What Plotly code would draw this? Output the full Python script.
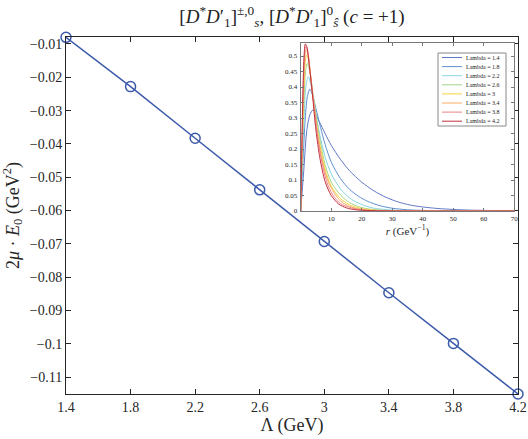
import plotly.graph_objects as go

W, H = 528, 439
L, R, T, B = 66, 10, 37, 45

# main panel: binding energy vs cutoff
lam = [1.4, 1.8, 2.2, 2.6, 3.0, 3.4, 3.8, 4.2]
e0 = [-0.0080, -0.0228, -0.0383, -0.0538, -0.0693, -0.0847, -0.0999, -0.1151]

# inset: radial distributions
r_14 = [0, 1, 2, 3, 4, 6, 8, 10, 13, 16, 20, 24, 28, 32, 36, 40, 45, 50, 55, 60, 70]
u_14 = [0, 0.13, 0.26, 0.31, 0.326, 0.29, 0.25, 0.212, 0.167, 0.13, 0.093, 0.065,
        0.044, 0.029, 0.019, 0.013, 0.008, 0.005, 0.003, 0.002, 0.0005]
r_18 = [0, 0.7, 1.5, 2.2, 3, 4, 5, 6.5, 8, 10, 13, 16, 19, 22, 26, 30, 35, 40, 50, 70]
u_18 = [0, 0.15, 0.3, 0.37, 0.393, 0.37, 0.33, 0.27, 0.215, 0.158, 0.105, 0.07,
        0.047, 0.031, 0.017, 0.009, 0.004, 0.002, 0.0005, 0]
r_22 = [0, 0.6, 1.2, 1.8, 2.5, 3.5, 4.5, 6, 8, 10, 13, 16, 19, 22, 24, 30, 40, 70]
u_22 = [0, 0.17, 0.32, 0.41, 0.433, 0.40, 0.34, 0.258, 0.175, 0.12, 0.072, 0.042,
        0.025, 0.014, 0.009, 0.003, 0.0005, 0]
r_26 = [0, 0.5, 1, 1.5, 2.1, 3, 4, 5, 6.5, 8, 10, 13, 16, 19, 22, 26, 35, 70]
u_26 = [0, 0.18, 0.34, 0.44, 0.476, 0.45, 0.38, 0.31, 0.22, 0.15, 0.093, 0.052,
        0.027, 0.014, 0.007, 0.003, 0.0005, 0]
r_30 = [0, 0.5, 1, 1.4, 1.85, 2.5, 3.5, 4.5, 6, 8, 10, 13, 16, 19, 22, 28, 70]
u_30 = [0, 0.21, 0.38, 0.47, 0.503, 0.49, 0.41, 0.33, 0.23, 0.135, 0.08, 0.041,
        0.02, 0.01, 0.005, 0.001, 0]
r_34 = [0, 0.5, 1, 1.3, 1.7, 2.3, 3.2, 4.2, 5.5, 7, 9, 11, 13, 16, 19, 24, 70]
u_34 = [0, 0.23, 0.41, 0.48, 0.519, 0.51, 0.44, 0.355, 0.25, 0.165, 0.095, 0.058,
        0.033, 0.015, 0.007, 0.002, 0]
r_38 = [0, 0.4, 0.8, 1.2, 1.6, 2.2, 3, 4, 5.2, 6.5, 8.5, 10.5, 13, 16, 19, 24, 70]
u_38 = [0, 0.21, 0.39, 0.49, 0.53, 0.52, 0.46, 0.37, 0.27, 0.18, 0.095, 0.052,
        0.024, 0.012, 0.005, 0.001, 0]
r_42 = [0, 0.4, 0.8, 1.1, 1.5, 2, 2.8, 3.8, 5, 6.3, 8, 10, 12.5, 15, 18, 23, 70]
u_42 = [0, 0.22, 0.41, 0.5, 0.539, 0.53, 0.47, 0.38, 0.26, 0.17, 0.095, 0.05,
        0.022, 0.01, 0.004, 0.001, 0]

inset_r = [r_14, r_18, r_22, r_26, r_30, r_34, r_38, r_42]
inset_u = [u_14, u_18, u_22, u_26, u_30, u_34, u_38, u_42]
colors = ['#6079c4', '#5e90cf', '#86d3e2', '#a6d486',
          '#f2d43c', '#f8aa62', '#f08484', '#c03040']

serif = "Liberation Serif, Times New Roman, serif"
pw, ph = W - L - R, H - T - B


def px(x, y):
    # pixel position -> paper coords
    return (x - L) / pw, (H - B - y) / ph


fig = go.Figure()

fig.add_trace(go.Scatter(
    x=lam, y=e0, mode='lines+markers', cliponaxis=False,
    line=dict(color='#3c5aaa', width=1.5),
    marker=dict(symbol='circle-open', size=10, color='#3c5aaa', line=dict(width=1.5)),
    showlegend=False))

for i in range(len(lam)):
    fig.add_trace(go.Scatter(
        x=inset_r[i], y=inset_u[i], mode='lines',
        line=dict(color=colors[i], width=1, shape='spline', smoothing=0.8),
        xaxis='x2', yaxis='y2', showlegend=False))

# small legend inside the inset
shapes = []
annos = []
bx0, by0 = px(438, 53)
bx1, by1 = px(506, 126)
shapes.append(dict(type='rect', xref='paper', yref='paper', x0=bx0, x1=bx1, y0=by1, y1=by0,
                   line=dict(color='#888888', width=1), fillcolor='white'))
for i, v in enumerate(lam):
    yy = 57.5 + 9.1 * i
    lx0, ly = px(442, yy)
    lx1, _ = px(462, yy)
    shapes.append(dict(type='line', xref='paper', yref='paper', x0=lx0, x1=lx1, y0=ly, y1=ly,
                       line=dict(color=colors[i], width=1)))
    tx, _ = px(464, yy)
    annos.append(dict(text=f"Lambda = {v:g}", xref='paper', yref='paper', x=tx, y=ly,
                      xanchor='left', yanchor='middle', showarrow=False,
                      font=dict(family=serif, size=6, color='#222222')))

ix0, iy0 = px(300.7, 211)
ix1, iy1 = px(514.3, 43)

fig.update_layout(
    width=W, height=H,
    margin=dict(l=L, r=R, t=T, b=B),
    paper_bgcolor='white', plot_bgcolor='white',
    font=dict(family=serif, color='#262626'),
    title=dict(text="[<i>D</i><sup>*</sup><i>D</i>′<sub>1</sub>]<sup>±,0</sup><sub><i>s</i></sub>, "
                    "[<i>D</i><sup>*</sup><i>D</i>′<sub>1</sub>]<sup>0</sup><sub><i>ŝ</i></sub> (<i>c</i> = +1)",
               x=292 / W, y=1 - 16 / H, xanchor='center', yanchor='middle',
               font=dict(family=serif, size=19, color='#222222')),
    xaxis=dict(range=[1.4, 4.2], tickvals=lam, ticktext=[f"{v:g}" for v in lam], automargin=False,
               showgrid=False, zeroline=False, showline=True, linecolor='#262626', linewidth=1,
               mirror='ticks', ticks='inside', ticklen=5, tickcolor='#262626',
               tickfont=dict(family=serif, size=14),
               title=dict(text="Λ (GeV)", font=dict(family=serif, size=18), standoff=4)),
    yaxis=dict(range=[-0.1151, -0.0079], dtick=0.01, tick0=-0.11, automargin=False,
               showgrid=False, zeroline=False, showline=True, linecolor='#262626', linewidth=1,
               mirror='ticks', ticks='inside', ticklen=5, tickcolor='#262626',
               tickfont=dict(family=serif, size=14),
               title=dict(text="2<i>μ</i> · <i>E</i><sub>0</sub> (GeV<sup>2</sup>)",
                          font=dict(family=serif, size=18), standoff=6)),
    xaxis2=dict(domain=[ix0, ix1], anchor='y2', range=[0, 70], tickvals=[10, 20, 30, 40, 50, 60, 70],
                automargin=False,
                showgrid=False, zeroline=False, showline=True, linecolor='#777777', linewidth=1,
                mirror='ticks', ticks='inside', ticklen=3, tickcolor='#777777',
                tickfont=dict(family=serif, size=7), ticklabelstandoff=1,
                title=dict(text="<i>r</i> (GeV<sup>−1</sup>)", font=dict(family=serif, size=11), standoff=0)),
    yaxis2=dict(domain=[iy0, iy1], anchor='x2', range=[0, 0.542], dtick=0.05, automargin=False,
                showgrid=False, zeroline=False, showline=True, linecolor='#777777', linewidth=1,
                mirror='ticks', ticks='inside', ticklen=3, tickcolor='#777777',
                tickfont=dict(family=serif, size=7), ticklabelstandoff=1),
    shapes=shapes, annotations=annos,
)

fig.write_html("out.html", config={'displayModeBar': False},
               post_script="document.body.style.margin='0';")
